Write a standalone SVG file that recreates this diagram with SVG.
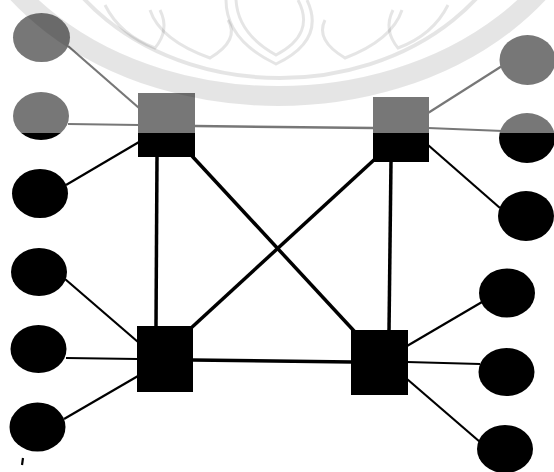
<svg xmlns="http://www.w3.org/2000/svg" width="554" height="472" viewBox="0 0 554 472">
  <style>
    .node { fill: #000; }
    .thin { stroke: #000; stroke-width: 2.2; fill: none; }
    .thick { stroke: #000; stroke-width: 3.5; fill: none; }
    .mid { stroke: #000; stroke-width: 2.5; fill: none; }
    .wm { fill: none; stroke: #000; stroke-opacity: 0.1; }
  </style>
  <rect width="554" height="472" fill="#fff"/>
  <g id="connectors">
    <line class="thin" x1="68" y1="46" x2="139" y2="108"/>
    <line class="thin" x1="68" y1="124" x2="139" y2="125"/>
    <line class="thin" x1="66" y1="185" x2="139" y2="142"/>
    <line class="mid" x1="195" y1="126" x2="373" y2="128"/>
    <line class="thin" x1="428" y1="113" x2="502" y2="66"/>
    <line class="thin" x1="428" y1="128" x2="503" y2="131"/>
    <line class="thin" x1="428" y1="145" x2="500" y2="208"/>
    <line class="thick" x1="157" y1="156" x2="156" y2="327"/>
    <line class="thick" x1="192" y1="156" x2="355" y2="332"/>
    <line class="thick" x1="375" y1="159" x2="190" y2="329"/>
    <line class="thick" x1="391" y1="161" x2="389" y2="331"/>
    <line class="thick" x1="192" y1="360" x2="352" y2="362"/>
    <line class="thin" x1="65" y1="279" x2="138" y2="342"/>
    <line class="thin" x1="66" y1="358" x2="138" y2="359"/>
    <line class="thin" x1="64" y1="419" x2="138" y2="376"/>
    <line class="thin" x1="407" y1="346" x2="482" y2="302"/>
    <line class="thin" x1="407" y1="362" x2="480" y2="364"/>
    <line class="thin" x1="407" y1="379" x2="480" y2="442"/>
    <line class="thin" x1="23" y1="458" x2="22" y2="465"/>
  </g>
  <g id="sw-tl"><rect class="node" x="138" y="93" width="57" height="64"/></g>
  <g id="sw-tr"><rect class="node" x="373" y="97" width="56" height="65"/></g>
  <g id="sw-bl"><rect class="node" x="137" y="326" width="56" height="66"/></g>
  <g id="sw-br"><rect class="node" x="351" y="330" width="57" height="65"/></g>
  <g id="h-l1"><ellipse class="node" cx="41.5" cy="37.5" rx="28.5" ry="24.5"/></g>
  <g id="h-l2"><ellipse class="node" cx="41" cy="116" rx="28" ry="24"/></g>
  <g id="h-l3"><ellipse class="node" cx="40" cy="193.5" rx="28" ry="24.5"/></g>
  <g id="h-l4"><ellipse class="node" cx="39" cy="272" rx="28" ry="24"/></g>
  <g id="h-l5"><ellipse class="node" cx="38.5" cy="349" rx="28" ry="24"/></g>
  <g id="h-l6"><ellipse class="node" cx="37.5" cy="427" rx="28" ry="24.5"/></g>
  <g id="h-r1"><ellipse class="node" cx="527.5" cy="60" rx="28" ry="25"/></g>
  <g id="h-r2"><ellipse class="node" cx="527" cy="138" rx="28" ry="25"/></g>
  <g id="h-r3"><ellipse class="node" cx="526" cy="216" rx="28" ry="25"/></g>
  <g id="h-r4"><ellipse class="node" cx="507" cy="293" rx="28" ry="24.5"/></g>
  <g id="h-r5"><ellipse class="node" cx="506.5" cy="372" rx="28" ry="24"/></g>
  <g id="h-r6"><ellipse class="node" cx="505" cy="449" rx="28" ry="24"/></g>
  <g id="watermark">
    <rect x="0" y="0" width="554" height="133" fill="#fff" fill-opacity="0.467"/>
    <ellipse class="wm" cx="278" cy="-150" rx="320" ry="246" stroke-width="20"/>
    <ellipse class="wm" cx="280" cy="-120" rx="245" ry="198" stroke-width="4"/>
    <path class="wm" stroke-width="3" d="M226 0 Q226 40 276 64 Q326 40 307 0"/>
    <path class="wm" stroke-width="3" d="M236 0 Q238 34 276 55 Q316 34 298 0"/>
    <path class="wm" stroke-width="3" d="M150 10 Q160 40 210 58 Q240 40 228 20"/>
    <path class="wm" stroke-width="3" d="M402 10 Q392 40 345 58 Q315 40 325 20"/>
    <path class="wm" stroke-width="3" d="M105 5 Q120 35 155 48 Q170 30 160 10"/>
    <path class="wm" stroke-width="3" d="M448 5 Q433 35 398 48 Q383 30 393 10"/>
  </g>
</svg>
